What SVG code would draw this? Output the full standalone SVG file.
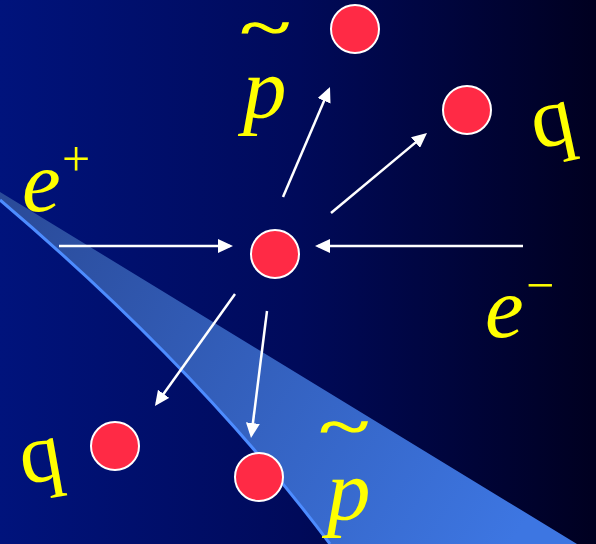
<svg xmlns="http://www.w3.org/2000/svg" width="596" height="544" viewBox="0 0 596 544">
<defs>
<linearGradient id="bg" x1="0" y1="0" x2="1" y2="0">
<stop offset="0" stop-color="#00137c"/>
<stop offset="0.5" stop-color="#000a5a"/>
<stop offset="1" stop-color="#000020"/>
</linearGradient>
<linearGradient id="wedge" gradientUnits="userSpaceOnUse" x1="0" y1="195" x2="520" y2="530">
<stop offset="0" stop-color="#2a4a98"/>
<stop offset="1" stop-color="#3d76e2"/>
</linearGradient>
<marker id="ah" markerUnits="userSpaceOnUse" markerWidth="15" markerHeight="14" refX="12" refY="7" orient="auto">
<path d="M0,0 L15,7 L0,14 z" fill="#ffffff"/>
</marker>
<style>
.ball{fill:#ff2a45;stroke:#ffffff;stroke-width:2}
.arr{stroke:#ffffff;stroke-width:2.5;fill:none;marker-end:url(#ah)}
.lbl{fill:#ffff00;font-family:"Liberation Serif","Times New Roman",serif}
.it{font-style:italic;font-size:87px}
.rm{font-size:85px}
.til{font-size:85px;stroke:#ffff00;stroke-width:1.6}
.sup{font-size:50px}
</style>
</defs>
<rect x="0" y="0" width="596" height="544" fill="url(#bg)"/>
<g id="wedge-shape">
<path d="M0,192 L577,544 L330,544 Q200,370 0,200 Z" fill="url(#wedge)"/>
<path d="M330,544 Q200,370 0,200" fill="none" stroke="#4d8cff" stroke-width="3"/>
</g>
<g id="connectors">
<line class="arr" x1="59" y1="246" x2="230" y2="246"/>
<line class="arr" x1="523" y1="246" x2="318" y2="246"/>
<line class="arr" x1="283" y1="197" x2="328.8" y2="89.8"/>
<line class="arr" x1="331" y1="213" x2="424.7" y2="134.9"/>
<line class="arr" x1="235" y1="294" x2="156.7" y2="403.6"/>
<line class="arr" x1="267" y1="311" x2="251.4" y2="435"/>
</g>
<g id="center"><circle class="ball" cx="275" cy="254" r="24"/></g>
<g id="top"><circle class="ball" cx="355" cy="29" r="24"/></g>
<g id="right-top"><circle class="ball" cx="467" cy="110" r="24"/></g>
<g id="bottom-left"><circle class="ball" cx="115" cy="446" r="24"/></g>
<g id="bottom"><circle class="ball" cx="259" cy="477" r="24"/></g>
<g id="label-eplus">
<text class="lbl it" x="22" y="211">e</text>
<text class="lbl sup" x="62" y="176">+</text>
</g>
<g id="label-eminus">
<text class="lbl it" x="485" y="337">e</text>
<text class="lbl sup" x="526" y="302">−</text>
</g>
<g id="label-ptilde-top">
<text class="lbl til" transform="translate(240,48) scale(1.1,0.72)">~</text>
<text class="lbl it" x="243" y="117">p</text>
</g>
<g id="label-ptilde-bottom">
<text class="lbl til" transform="translate(319,447) scale(1.1,0.72)">~</text>
<text class="lbl it" x="327" y="519">p</text>
</g>
<g id="label-q-right">
<text class="lbl rm" text-anchor="middle" transform="translate(555,135) rotate(-12)" x="0" y="10">q</text>
</g>
<g id="label-q-left">
<text class="lbl rm" text-anchor="middle" transform="translate(43,471) rotate(-10)" x="0" y="10">q</text>
</g>
</svg>
